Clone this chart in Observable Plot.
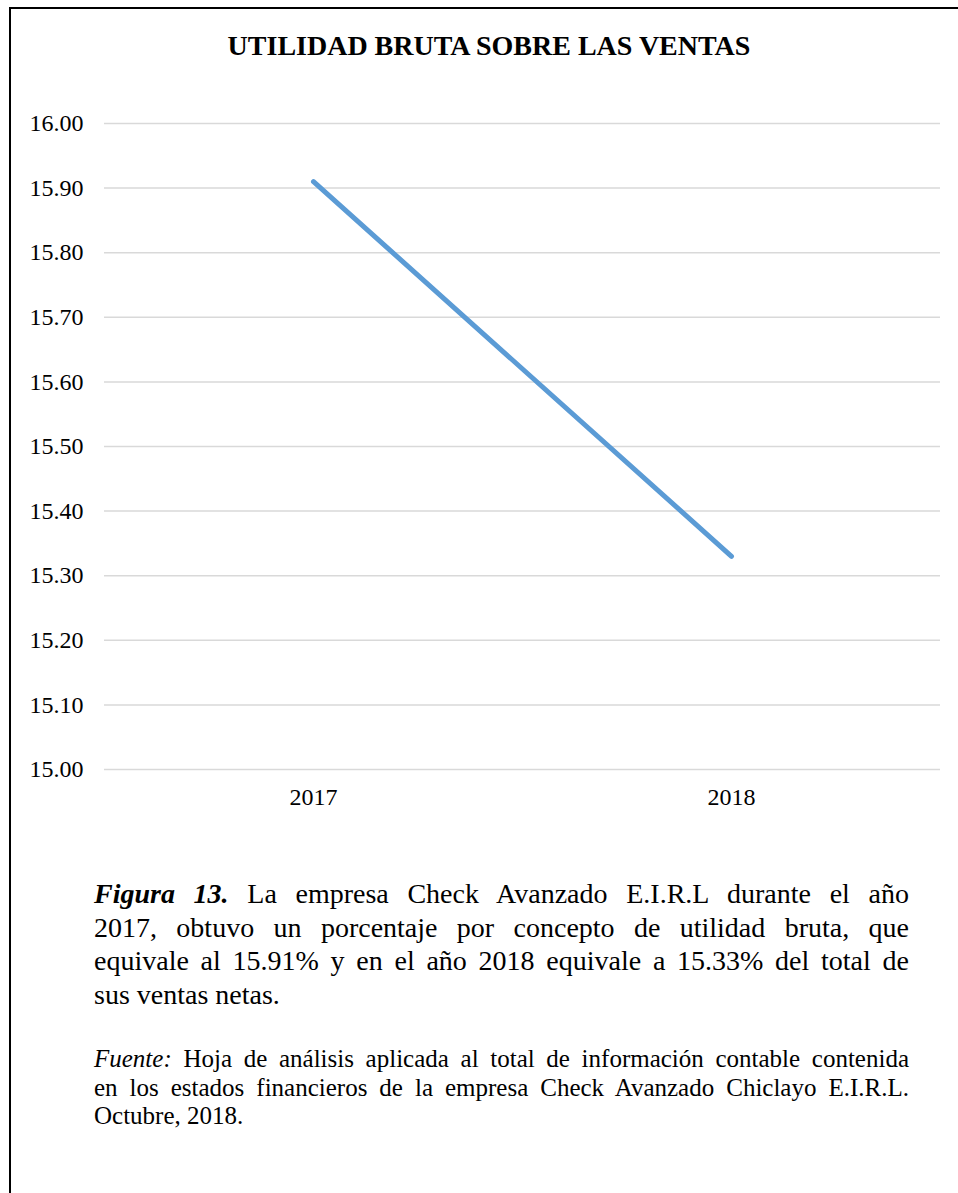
<!DOCTYPE html>
<html>
<head>
<meta charset="utf-8">
<script src="https://cdn.jsdelivr.net/npm/d3@7"></script>
<script src="https://cdn.jsdelivr.net/npm/@observablehq/plot@0.6"></script>
<style>
  html, body { margin: 0; padding: 0; background: #fff; }
  body { width: 958px; height: 1193px; position: relative; overflow: hidden; font-family: "Liberation Serif", "Times New Roman", serif; color: #000; }
  #frame { position: absolute; left: 9px; top: 7px; right: -10px; bottom: -10px; border-left: 2px solid #000; border-top: 2px solid #000; }
  #title { position: absolute; left: 0; width: 978px; top: 32px; text-align: center; font-weight: bold; font-size: 28px; line-height: 28px; white-space: nowrap; }
  #chart { position: absolute; left: 0; top: 0; }
  #chart svg, #chart svg text { font-family: "Liberation Serif", "Times New Roman", serif !important; }
  #caption { position: absolute; left: 94px; width: 815px; top: 877px; font-size: 28px; line-height: 33.5px; }
  #fuente { position: absolute; left: 94px; width: 815px; top: 1045px; font-size: 25px; line-height: 28.7px; }
  .j { text-align: justify; text-align-last: justify; white-space: nowrap; }
  .l { text-align: left; white-space: nowrap; }
</style>
</head>
<body>
<div id="frame"></div>
<div id="title"></div>
<div id="chart"></div>
<div id="caption"></div>
<div id="fuente"></div>
<script>
const titleText = "UTILIDAD BRUTA SOBRE LAS VENTAS";
const years = ["2017", "2018"];
const values = [15.91, 15.33];
const yTicks = [15.00, 15.10, 15.20, 15.30, 15.40, 15.50, 15.60, 15.70, 15.80, 15.90, 16.00];
const yDomain = [15.00, 16.00];
const captionLines = [
  "<b><i>Figura 13.</i></b> La empresa Check Avanzado E.I.R.L durante el año",
  "2017, obtuvo un porcentaje por concepto de utilidad bruta, que",
  "equivale al 15.91% y en el año 2018 equivale a 15.33% del total de",
  "sus ventas netas."
];
const fuenteLines = [
  "<i>Fuente:</i> Hoja de análisis aplicada al total de información contable contenida",
  "en los estados financieros de la empresa Check Avanzado Chiclayo E.I.R.L.",
  "Octubre, 2018."
];

const data = years.map((y, i) => ({year: y, value: values[i]}));

document.getElementById("title").textContent = titleText;

const serif = "Liberation Serif, Times New Roman, serif";
const chart = Plot.plot({
  width: 958,
  height: 830,
  marginLeft: 104,
  marginRight: 18,
  marginTop: 123,
  marginBottom: 61,
  x: {type: "point", domain: years, padding: 0.5},
  y: {domain: yDomain},
  style: {fontFamily: serif, fontSize: "24px", color: "#000", background: "transparent", overflow: "visible"},
  marks: [
    Plot.gridY(yTicks, {stroke: "#d9d9d9", strokeOpacity: 1, strokeWidth: 1.5}),
    Plot.axisY(yTicks, {tickSize: 0, tickPadding: 21, tickFormat: d3.format(".2f"), label: null, fontSize: 24, fontFamily: serif}),
    Plot.axisX(years, {tickSize: 0, tickPadding: 18, label: null, fontSize: 24, fontFamily: serif}),
    Plot.line(data, {x: "year", y: "value", stroke: "#5B9BD5", strokeWidth: 5, strokeLinecap: "round", strokeLinejoin: "round"})
  ]
});
document.getElementById("chart").appendChild(chart);

const cap = document.getElementById("caption");
captionLines.forEach((t, i) => {
  const d = document.createElement("div");
  d.className = i < captionLines.length - 1 ? "j" : "l";
  d.innerHTML = t;
  cap.appendChild(d);
});
const fu = document.getElementById("fuente");
fuenteLines.forEach((t, i) => {
  const d = document.createElement("div");
  d.className = i < fuenteLines.length - 1 ? "j" : "l";
  d.innerHTML = t;
  fu.appendChild(d);
});
</script>
</body>
</html>
